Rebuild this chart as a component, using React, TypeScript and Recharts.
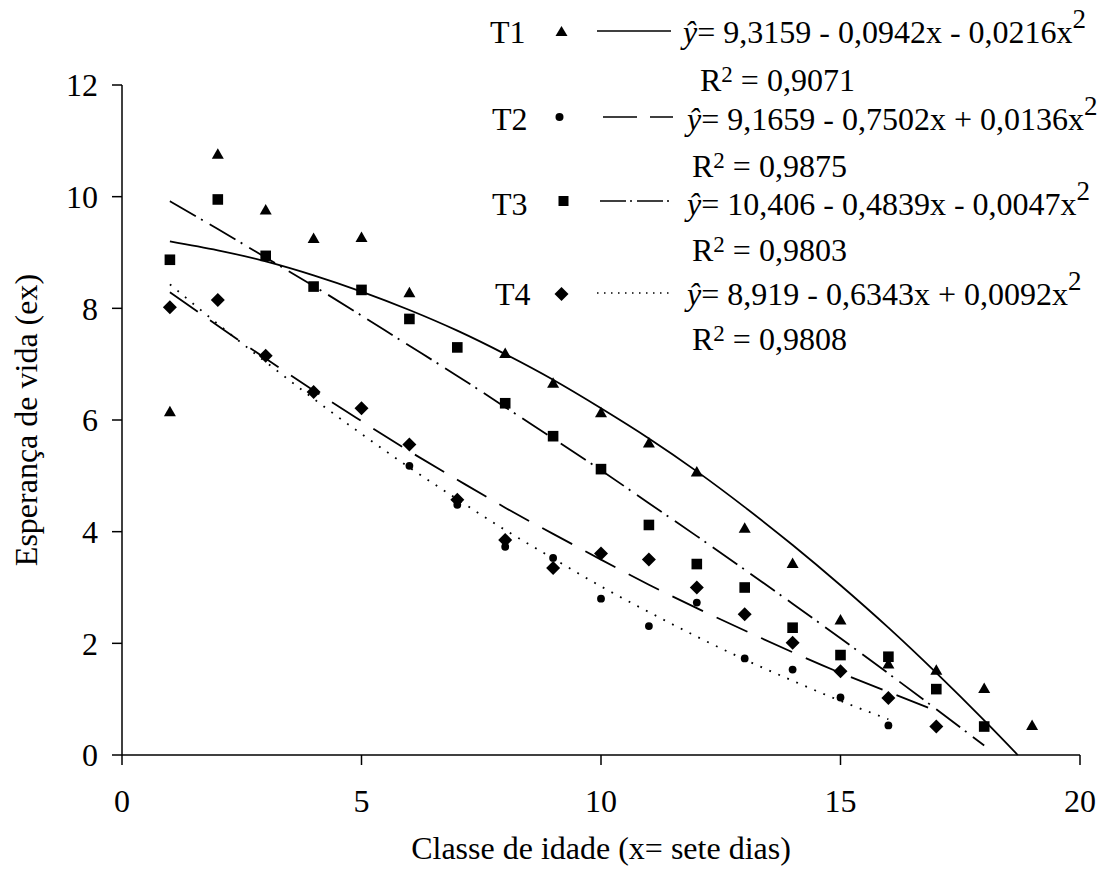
import {
  ComposedChart,
  Line,
  Scatter,
  XAxis,
  YAxis,
} from "recharts";

// Observed life expectancy per age class (x = 1..19), null = no point
const ageClass = [1, 2, 3, 4, 5, 6, 7, 8, 9, 10, 11, 12, 13, 14, 15, 16, 17, 18, 19];
const t1Obs = [6.15, 10.76, 9.76, 9.25, 9.27, 8.28, null, 7.19, 6.66, 6.13, 5.59, 5.07, 4.06, 3.43, 2.42, 1.63, 1.52, 1.19, 0.53];
const t2Obs = [8.02, 8.15, 7.15, 6.5, 6.21, 5.18, 4.48, 3.73, 3.53, 2.8, 2.31, 2.73, 1.73, 1.53, 1.03, 0.53, null, null, null];
const t3Obs = [8.87, 9.95, 8.94, 8.39, 8.33, 7.81, 7.3, 6.3, 5.71, 5.12, 4.12, 3.42, 3.0, 2.28, 1.79, 1.76, 1.18, 0.51, null];
const t4Obs = [8.02, 8.15, 7.15, 6.5, 6.21, 5.56, 4.57, 3.85, 3.35, 3.61, 3.5, 3.0, 2.52, 2.01, 1.5, 1.02, 0.51, null, null];

// Fitted curves
const fitT1X = [1, 2, 3, 4, 5, 6, 7, 8, 9, 10, 11, 12, 13, 14, 15, 16, 17, 18, 18.7];
const fitT1 = [9.2, 9.04, 8.84, 8.59, 8.3, 7.97, 7.6, 7.18, 6.72, 6.21, 5.67, 5.08, 4.44, 3.76, 3.04, 2.28, 1.47, 0.62, 0];
const fitX = [1, 2, 3, 4, 5, 6, 7, 8, 9, 10, 11, 12, 13, 14, 15, 16, 17, 18];
const fitDotted = [8.43, 7.72, 7.04, 6.38, 5.75, 5.15, 4.58, 4.03, 3.52, 3.02, 2.56, 2.12, 1.71, 1.33, 0.97, 0.64];
const fitDashDot = [9.92, 9.42, 8.91, 8.4, 7.87, 7.33, 6.79, 6.23, 5.67, 5.1, 4.51, 3.92, 3.32, 2.71, 2.09, 1.46, 0.82, 0.17];
const fitLongDash = [8.29, 7.69, 7.1, 6.53, 5.98, 5.44, 4.93, 4.43, 3.96, 3.5, 3.05, 2.63, 2.23, 1.84, 1.47, 1.13, 0.79];

const xTicks = [0, 5, 10, 15, 20];
const yTicks = [0, 2, 4, 6, 8, 10, 12];

const FONT = "Liberation Serif";

const toPoints = (xs: number[], ys: (number | null)[]) =>
  ys
    .map((y, i) => ({ x: xs[i], y }))
    .filter((p) => p.y !== null) as { x: number; y: number }[];

const triangle = (p: any) => (
  <path
    d={`M${p.cx},${p.cy - 6}L${p.cx - 6},${p.cy + 4.5}L${p.cx + 6},${p.cy + 4.5}Z`}
    fill="#000"
  />
);
const circle = (p: any) => <circle cx={p.cx} cy={p.cy} r={3.9} fill="#000" />;
const square = (p: any) => (
  <rect x={p.cx - 5.3} y={p.cy - 5.3} width={10.6} height={10.6} fill="#000" />
);
const diamond = (p: any) => (
  <path
    d={`M${p.cx},${p.cy - 7}L${p.cx + 7},${p.cy}L${p.cx},${p.cy + 7}L${p.cx - 7},${p.cy}Z`}
    fill="#000"
  />
);

const XTitle = (props: any) => {
  const vb = props.viewBox || { x: 122, width: 958 };
  return (
    <text
      x={vb.x + vb.width / 2}
      y={859}
      textAnchor="middle"
      style={{ fontFamily: FONT, fontSize: 32 }}
      fill="#000"
    >
      Classe de idade (x= sete dias)
    </text>
  );
};

const YTitle = (props: any) => {
  const vb = props.viewBox || { y: 85, height: 670 };
  const cy = vb.y + vb.height / 2;
  return (
    <text
      x={37}
      y={cy}
      transform={`rotate(-90, 37, ${cy})`}
      textAnchor="middle"
      style={{ fontFamily: FONT, fontSize: 32 }}
      fill="#000"
    >
      Esperança de vida (ex)
    </text>
  );
};

// legend rows: label, equation, R2 text
const legendRows = [
  { name: "T1", eq: "= 9,3159 - 0,0942x - 0,0216x", r2: "0,9071" },
  { name: "T2", eq: "= 9,1659 - 0,7502x + 0,0136x", r2: "0,9875" },
  { name: "T3", eq: "= 10,406 - 0,4839x - 0,0047x", r2: "0,9803" },
  { name: "T4", eq: "= 8,919 - 0,6343x + 0,0092x", r2: "0,9808" },
];

function LegendOverlay() {
  const rowBase = [43, 130, 215, 305];
  const r2Base = [91, 177, 261, 350];
  const r2X = [700, 692, 692, 692];
  const nameX = [490, 492, 492, 495];
  return (
    <svg
      width={1112}
      height={875}
      style={{ position: "absolute", left: 0, top: 0, pointerEvents: "none", fontFamily: FONT }}
    >
      {legendRows.map((r, i) => (
        <g key={r.name} fill="#000">
          <text x={nameX[i]} y={rowBase[i]} style={{ fontSize: 32 }}>
            {r.name}
          </text>
          <text x={i === 0 ? 683 : 687} y={rowBase[i]} style={{ fontSize: 32 }}>
            <tspan style={{ fontStyle: "italic" }}>ŷ</tspan>
            {r.eq}
            <tspan style={{ fontSize: 27 }} dy={-15}>
              2
            </tspan>
          </text>
          <text x={r2X[i]} y={r2Base[i]} style={{ fontSize: 32 }}>
            R
            <tspan style={{ fontSize: 23 }} dy={-9}>
              2
            </tspan>
            <tspan dy={9}> = {r.r2}</tspan>
          </text>
        </g>
      ))}
      {/* symbols */}
      <path d="M561.5,26L555.5,36L567.5,36Z" fill="#000" />
      <circle cx={559.5} cy={117} r={4} fill="#000" />
      <rect x={558.5} y={196} width={10} height={10} fill="#000" />
      <path d="M561.5,287L568.5,294L561.5,301L554.5,294Z" fill="#000" />
      {/* line samples */}
      <line x1={597} y1={31} x2={671} y2={31} stroke="#000" strokeWidth={1.5} />
      <line x1={603} y1={117} x2={673} y2={117} stroke="#000" strokeWidth={1.5} strokeDasharray="34 13" />
      <line x1={600} y1={201} x2={670} y2={201} stroke="#000" strokeWidth={1.5} strokeDasharray="26 4 2 5" />
      <line x1={597} y1={293} x2={672} y2={293} stroke="#000" strokeWidth={1.5} strokeDasharray="1.5 5.5" />
    </svg>
  );
}

export default function App() {
  return (
    <div
      style={{
        position: "absolute",
        left: 0,
        top: 0,
        width: 1112,
        height: 875,
        background: "#fff",
        fontFamily: FONT,
      }}
    >
      <ComposedChart
        width={1112}
        height={875}
        margin={{ top: 85, right: 32, bottom: 0, left: 0 }}
        style={{ fontFamily: FONT }}
      >
        <XAxis
          type="number"
          dataKey="x"
          domain={[0, 20]}
          ticks={xTicks}
          height={120}
          stroke="#000"
          strokeWidth={1.5}
          tickSize={10}
          tickMargin={24}
          tick={{ fill: "#000", fontSize: 32, style: { fontFamily: FONT } }}
          label={XTitle}
        />
        <YAxis
          type="number"
          dataKey="y"
          domain={[0, 12]}
          ticks={yTicks}
          width={122}
          stroke="#000"
          strokeWidth={1.5}
          tickSize={10}
          tickMargin={14}
          tick={{ fill: "#000", fontSize: 32, style: { fontFamily: FONT } }}
          label={YTitle}
        />
        <Line
          data={toPoints(fitT1X, fitT1)}
          dataKey="y"
          type="natural"
          stroke="#000"
          strokeWidth={1.8}
          dot={false}
          activeDot={false}
          isAnimationActive={false}
        />
        <Line
          data={toPoints(fitX, fitDotted)}
          dataKey="y"
          type="natural"
          stroke="#000"
          strokeWidth={1.8}
          strokeDasharray="1.8 8"
          dot={false}
          activeDot={false}
          isAnimationActive={false}
        />
        <Line
          data={toPoints(fitX, fitDashDot)}
          dataKey="y"
          type="natural"
          stroke="#000"
          strokeWidth={1.8}
          strokeDasharray="30 6 2 8"
          dot={false}
          activeDot={false}
          isAnimationActive={false}
        />
        <Line
          data={toPoints(fitX, fitLongDash)}
          dataKey="y"
          type="natural"
          stroke="#000"
          strokeWidth={1.8}
          strokeDasharray="34 15"
          dot={false}
          activeDot={false}
          isAnimationActive={false}
        />
        <Scatter data={toPoints(ageClass, t1Obs)} dataKey="y" shape={triangle} isAnimationActive={false} />
        <Scatter data={toPoints(ageClass, t2Obs)} dataKey="y" shape={circle} isAnimationActive={false} />
        <Scatter data={toPoints(ageClass, t3Obs)} dataKey="y" shape={square} isAnimationActive={false} />
        <Scatter data={toPoints(ageClass, t4Obs)} dataKey="y" shape={diamond} isAnimationActive={false} />
      </ComposedChart>
      <LegendOverlay />
    </div>
  );
}
